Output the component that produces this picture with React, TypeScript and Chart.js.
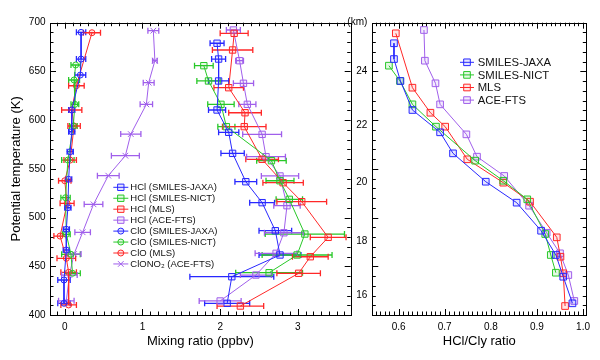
import React, { useEffect, useRef } from 'react';
import { Chart, registerables } from 'chart.js';
Chart.register(...registerables);

const FONT = "'Liberation Sans', Arial, Helvetica, sans-serif";

// ---------- Left panel: mixing ratios (ppbv) vs potential temperature (K) ----------
const hclJaxaTheta = [678.9, 662.7, 640.2, 610.4, 587.5, 565.9, 536.8, 515.3, 486.5, 461.6, 439.3, 412.0];
const hclJaxaVmr = [1.96, 1.98, 1.98, 1.96, 2.11, 2.16, 2.33, 2.54, 2.71, 2.77, 2.15, 2.09];
const hclJaxaErr = [0.09, 0.09, 0.13, 0.11, 0.13, 0.15, 0.14, 0.16, 0.21, 0.27, 0.54, 0.29];

const hclNictTheta = [655.9, 640.2, 616.2, 593.3, 558.4, 537.8, 518.7, 483.1, 461.6, 443.4];
const hclNictVmr = [1.79, 1.85, 2.01, 2.08, 2.66, 2.77, 2.89, 3.09, 2.99, 2.63];
const hclNictErr = [0.12, 0.15, 0.17, 0.11, 0.19, 0.18, 0.17, 0.51, 0.45, 0.43];

const hclMlsTheta = [689.1, 672.0, 633.3, 607.6, 593.3, 559.8, 535.8, 516.3, 479.7, 459.8, 442.8, 409.2];
const hclMlsVmr = [2.18, 2.16, 2.11, 2.32, 2.31, 2.54, 2.81, 3.05, 3.39, 3.16, 3.01, 2.26];
const hclMlsErr = [0.18, 0.26, 0.19, 0.21, 0.28, 0.21, 0.26, 0.32, 0.23, 0.23, 0.28, 0.30];

const hclAceTheta = [692.5, 661.0, 637.8, 616.2, 585.4, 562.5, 542.7, 512.2, 484.4, 463.3, 441.0, 414.4];
const hclAceVmr = [2.17, 2.25, 2.30, 2.35, 2.54, 2.59, 2.77, 2.86, 2.82, 2.72, 2.46, 2.00];
const hclAceErr = [0.09, 0.05, 0.13, 0.11, 0.25, 0.25, 0.24, 0.17, 0.25, 0.27, 0.20, 0.27];

const cloJaxaTheta = [690.1, 662.7, 646.3, 610.4, 588.1, 567.6, 539.3, 510.1, 488.0, 466.7, 435.9, 412.0];
const cloJaxaVmr = [0.21, 0.21, 0.20, 0.09, 0.09, 0.07, 0.05, 0.04, 0.02, 0.02, -0.01, -0.01];
const cloJaxaErr = [0.06, 0.06, 0.07, 0.04, 0.04, 0.04, 0.04, 0.04, 0.04, 0.04, 0.08, 0.08];

const cloNictTheta = [656.6, 641.2, 616.2, 594.0, 559.0, 520.4, 482.8, 462.3, 442.8];
const cloNictVmr = [0.14, 0.12, 0.13, 0.11, 0.04, 0.01, 0.02, 0.08, 0.10];
const cloNictErr = [0.06, 0.07, 0.05, 0.05, 0.08, 0.06, 0.05, 0.12, 0.10];

const cloMlsTheta = [689.7, 635.3, 610.4, 594.0, 559.0, 537.8, 514.6, 481.0, 458.2, 443.8, 410.3];
const cloMlsVmr = [0.35, 0.15, 0.09, 0.12, 0.07, 0.00, 0.03, -0.06, 0.02, 0.05, 0.05];
const cloMlsErr = [0.11, 0.10, 0.13, 0.08, 0.08, 0.08, 0.09, 0.08, 0.12, 0.10, 0.10];

const clono2Theta = [691.8, 661.0, 638.4, 616.2, 585.7, 563.5, 543.0, 513.6, 484.9, 462.6, 441.0, 414.5];
const clono2Vmr = [1.14, 1.16, 1.08, 1.05, 0.85, 0.78, 0.56, 0.37, 0.23, 0.12, 0.06, 0.02];
const clono2Err = [0.07, 0.03, 0.07, 0.08, 0.13, 0.18, 0.14, 0.12, 0.10, 0.09, 0.10, 0.10];

// ---------- Right panel: HCl/Cly ratio ----------
const ratioJaxa = [0.590, 0.590, 0.604, 0.630, 0.690, 0.718, 0.789, 0.856, 0.909, 0.941, 0.957, 0.977];
const ratioNict = [0.579, 0.603, 0.630, 0.681, 0.766, 0.827, 0.879, 0.918, 0.930, 0.941];
const ratioMlsTheta = [689.1, 633.3, 607.6, 593.3, 559.8, 535.8, 516.3, 479.7, 459.8, 442.8, 409.2];
const ratioMls = [0.594, 0.630, 0.669, 0.701, 0.749, 0.827, 0.885, 0.943, 0.951, 0.957, 0.961];
const ratioAce = [0.655, 0.657, 0.680, 0.690, 0.747, 0.770, 0.829, 0.883, 0.921, 0.950, 0.968, 0.981];

// ---------- Axes ----------
const mixTicks = [0, 1, 2, 3];
const thetaTicks = [400, 450, 500, 550, 600, 650, 700];
const ratioTicks = [0.6, 0.7, 0.8, 0.9, 1.0];
const kmLabels = ['16', '18', '20', '22', '24', '(km)'];
const kmTheta = [419.8, 475.6, 536.5, 594.3, 650.4, 700];

const BLUE = 'rgb(40,40,255)';
const GREEN = 'rgb(40,200,40)';
const RED = 'rgb(255,40,40)';
const PURPLE = 'rgb(160,95,235)';
const FILL: Record<string, string> = {
  [BLUE]: 'rgba(40,40,255,0.12)',
  [GREEN]: 'rgba(40,200,40,0.12)',
  [RED]: 'rgba(255,40,40,0.12)',
  [PURPLE]: 'rgba(160,95,235,0.12)',
};

function series(label: string, xs: number[], ys: number[], err: number[] | null, color: string, style: string, radius: number) {
  return {
    label,
    data: xs.map((x, i) => ({ x, y: ys[i] })),
    errX: err,
    showLine: true,
    borderColor: color,
    backgroundColor: FILL[color],
    borderWidth: 1,
    pointStyle: style,
    pointRadius: radius,
    pointBorderWidth: 1,
    pointBorderColor: color,
    pointBackgroundColor: FILL[color],
    tension: 0,
  };
}

function drawMarker(ctx: CanvasRenderingContext2D, style: string, x: number, y: number, r: number) {
  ctx.beginPath();
  if (style === 'rect') {
    const s = r * Math.SQRT1_2;
    ctx.rect(x - s, y - s, 2 * s, 2 * s);
    ctx.fill();
    ctx.stroke();
  } else if (style === 'circle') {
    ctx.arc(x, y, r, 0, Math.PI * 2);
    ctx.fill();
    ctx.stroke();
  } else {
    const s = r * Math.SQRT1_2;
    ctx.moveTo(x - s, y - s);
    ctx.lineTo(x + s, y + s);
    ctx.moveTo(x - s, y + s);
    ctx.lineTo(x + s, y - s);
    ctx.stroke();
  }
}

const decoPlugin = {
  id: 'deco',
  beforeDatasetsDraw(chart: any) {
    const { ctx } = chart;
    const xs = chart.scales.x;
    chart.data.datasets.forEach((ds: any, i: number) => {
      if (!ds.errX) return;
      const meta = chart.getDatasetMeta(i);
      ctx.save();
      ctx.strokeStyle = ds.borderColor;
      ctx.lineWidth = 1.3;
      ctx.beginPath();
      meta.data.forEach((pt: any, j: number) => {
        const raw = ds.data[j];
        const e = ds.errX[j];
        const x1 = xs.getPixelForValue(raw.x - e);
        const x2 = xs.getPixelForValue(raw.x + e);
        const y = pt.y;
        ctx.moveTo(x1, y); ctx.lineTo(x2, y);
        ctx.moveTo(x1, y - 3); ctx.lineTo(x1, y + 3);
        ctx.moveTo(x2, y - 3); ctx.lineTo(x2, y + 3);
      });
      ctx.stroke();
      ctx.restore();
    });
  },
  afterDraw(chart: any, _args: any, o: any) {
    const { ctx, chartArea: a } = chart;
    const xs = chart.scales.x;
    const ys = chart.scales.y;
    ctx.save();
    ctx.strokeStyle = '#000';
    ctx.lineWidth = 1;
    ctx.beginPath();
    const isMaj = (v: number, m: number) => Math.abs(v / m - Math.round(v / m)) < 1e-6;
    for (let k = Math.ceil(xs.min / o.xMinor - 1e-6); k * o.xMinor <= xs.max + 1e-9; k++) {
      const v = k * o.xMinor;
      const len = isMaj(v, o.xMajor) ? o.majorLen : o.minorLen;
      const px = Math.round(xs.getPixelForValue(v)) + 0.5;
      ctx.moveTo(px, a.bottom); ctx.lineTo(px, a.bottom - len);
      ctx.moveTo(px, a.top); ctx.lineTo(px, a.top + len);
    }
    for (let k = Math.ceil(ys.min / o.yMinor - 1e-6); k * o.yMinor <= ys.max + 1e-9; k++) {
      const v = k * o.yMinor;
      const len = isMaj(v, o.yMajor) ? o.majorLen : o.minorLen;
      const py = Math.round(ys.getPixelForValue(v)) + 0.5;
      ctx.moveTo(a.left, py); ctx.lineTo(a.left + len, py);
      ctx.moveTo(a.right, py); ctx.lineTo(a.right - len, py);
    }
    ctx.stroke();
    ctx.strokeRect(Math.round(a.left) + 0.5, Math.round(a.top) + 0.5, Math.round(a.right - a.left), Math.round(a.bottom - a.top));
    // legend
    const lg = o.legend;
    ctx.font = `${lg.size}px ${FONT}`;
    ctx.textBaseline = 'middle';
    chart.data.datasets.forEach((ds: any, i: number) => {
      const y = lg.y + i * lg.dy;
      ctx.strokeStyle = ds.borderColor;
      ctx.fillStyle = ds.pointBackgroundColor;
      ctx.lineWidth = 1;
      ctx.beginPath();
      ctx.moveTo(lg.x, y); ctx.lineTo(lg.x + lg.len, y);
      ctx.stroke();
      drawMarker(ctx, ds.pointStyle, lg.x + lg.len / 2, y, ds.pointRadius);
      ctx.fillStyle = '#111';
      ctx.fillText(ds.label, lg.x + lg.textGap, y + 0.5);
    });
    ctx.restore();
  },
};

function fixAxis(size: number, horizontal: boolean) {
  return (s: any) => {
    if (horizontal) s.height = size; else s.width = size;
    s.paddingLeft = 0; s.paddingRight = 0; s.paddingTop = 0; s.paddingBottom = 0;
  };
}

const tickFont = { size: 10, family: FONT };
const titleFont = { size: 13, family: FONT };

function leftConfig(): any {
  return {
    type: 'scatter',
    data: {
      datasets: [
        series('HCl (SMILES-JAXA)', hclJaxaVmr, hclJaxaTheta, hclJaxaErr, BLUE, 'rect', 4.5),
        series('HCl (SMILES-NICT)', hclNictVmr, hclNictTheta, hclNictErr, GREEN, 'rect', 4.5),
        series('HCl (MLS)', hclMlsVmr, hclMlsTheta, hclMlsErr, RED, 'rect', 4.5),
        series('HCl (ACE-FTS)', hclAceVmr, hclAceTheta, hclAceErr, PURPLE, 'rect', 4.5),
        series('ClO (SMILES-JAXA)', cloJaxaVmr, cloJaxaTheta, cloJaxaErr, BLUE, 'circle', 3),
        series('ClO (SMILES-NICT)', cloNictVmr, cloNictTheta, cloNictErr, GREEN, 'circle', 3),
        series('ClO (MLS)', cloMlsVmr, cloMlsTheta, cloMlsErr, RED, 'circle', 3),
        series('ClONO\u2082 (ACE-FTS)', clono2Vmr, clono2Theta, clono2Err, PURPLE, 'crossRot', 4),
      ],
    },
    plugins: [decoPlugin],
    options: {
      animation: false,
      responsive: false,
      maintainAspectRatio: false,
      events: [],
      layout: { padding: { left: 0, top: 22.7, right: 9.3, bottom: 0 } },
      plugins: {
        legend: { display: false },
        tooltip: { enabled: false },
        deco: {
          xMinor: 0.1, xMajor: 1, yMinor: 10, yMajor: 50, majorLen: 6, minorLen: 3.5,
          legend: { x: 113.3, y: 187.3, dy: 10.95, len: 15, textGap: 17, size: 9.5 },
        },
      },
      scales: {
        x: {
          type: 'linear', min: -0.19, max: 3.68,
          grid: { display: false, drawTicks: false }, border: { display: false },
          afterBuildTicks: (s: any) => { s.ticks = mixTicks.map((v) => ({ value: v })); },
          afterFit: fixAxis(45, true),
          ticks: { padding: 6, font: tickFont, color: '#000', maxRotation: 0, autoSkip: false, callback: (v: any) => String(v) },
          title: { display: true, text: 'Mixing ratio (ppbv)', font: titleFont, color: '#000', padding: { top: 0, bottom: 10.5 } },
        },
        y: {
          type: 'linear', min: 400, max: 700,
          grid: { display: false, drawTicks: false }, border: { display: false },
          afterBuildTicks: (s: any) => { s.ticks = thetaTicks.map((v) => ({ value: v })); },
          afterFit: fixAxis(50, false),
          ticks: { padding: 4.5, font: tickFont, color: '#000', autoSkip: false, callback: (v: any) => String(v) },
          title: { display: true, text: 'Potential temperature (K)', font: titleFont, color: '#000', padding: { top: 9, bottom: 0 } },
        },
      },
    },
  };
}

function rightConfig(): any {
  return {
    type: 'scatter',
    data: {
      datasets: [
        series('SMILES-JAXA', ratioJaxa, hclJaxaTheta, null, BLUE, 'rect', 4.7),
        series('SMILES-NICT', ratioNict, hclNictTheta, null, GREEN, 'rect', 4.7),
        series('MLS', ratioMls, ratioMlsTheta, null, RED, 'rect', 4.7),
        series('ACE-FTS', ratioAce, hclAceTheta, null, PURPLE, 'rect', 4.7),
      ],
    },
    plugins: [decoPlugin],
    options: {
      animation: false,
      responsive: false,
      maintainAspectRatio: false,
      events: [],
      layout: { padding: { left: 0, top: 22.7, right: 13.7, bottom: 0 } },
      plugins: {
        legend: { display: false },
        tooltip: { enabled: false },
        deco: {
          xMinor: 0.01, xMajor: 0.1, yMinor: 10, yMajor: 50, majorLen: 6, minorLen: 3.5,
          legend: { x: 115, y: 62.3, dy: 12.6, len: 14, textGap: 17.7, size: 11.3 },
        },
      },
      scales: {
        x: {
          type: 'linear', min: 0.543, max: 1.007,
          grid: { display: false, drawTicks: false }, border: { display: false },
          afterBuildTicks: (s: any) => { s.ticks = ratioTicks.map((v) => ({ value: v })); },
          afterFit: fixAxis(45, true),
          ticks: { padding: 6, font: tickFont, color: '#000', maxRotation: 0, autoSkip: false, callback: (v: any) => Number(v).toFixed(1) },
          title: { display: true, text: 'HCl/Cly ratio', font: titleFont, color: '#000', padding: { top: 0, bottom: 10.5 } },
        },
        y: {
          type: 'linear', min: 400, max: 700,
          grid: { display: false, drawTicks: false }, border: { display: false },
          afterBuildTicks: (s: any) => { s.ticks = kmTheta.map((v) => ({ value: v })); },
          afterFit: fixAxis(27.3, false),
          ticks: { padding: 5, font: tickFont, color: '#000', autoSkip: false, callback: (_v: any, i: number) => kmLabels[i] },
        },
      },
    },
  };
}

export default function App() {
  const leftRef = useRef<HTMLCanvasElement>(null);
  const rightRef = useRef<HTMLCanvasElement>(null);
  useEffect(() => {
    const c1 = new Chart(leftRef.current as HTMLCanvasElement, leftConfig());
    const c2 = new Chart(rightRef.current as HTMLCanvasElement, rightConfig());
    return () => {
      c1.destroy();
      c2.destroy();
    };
  }, []);
  return (
    <div style={{ position: 'fixed', left: 0, top: 0, width: 600, height: 360, background: '#fff' }}>
      <canvas ref={leftRef} width={360} height={360} style={{ position: 'absolute', left: 0, top: 0, width: 360, height: 360 }} />
      <canvas ref={rightRef} width={255} height={360} style={{ position: 'absolute', left: 345, top: 0, width: 255, height: 360 }} />
    </div>
  );
}
